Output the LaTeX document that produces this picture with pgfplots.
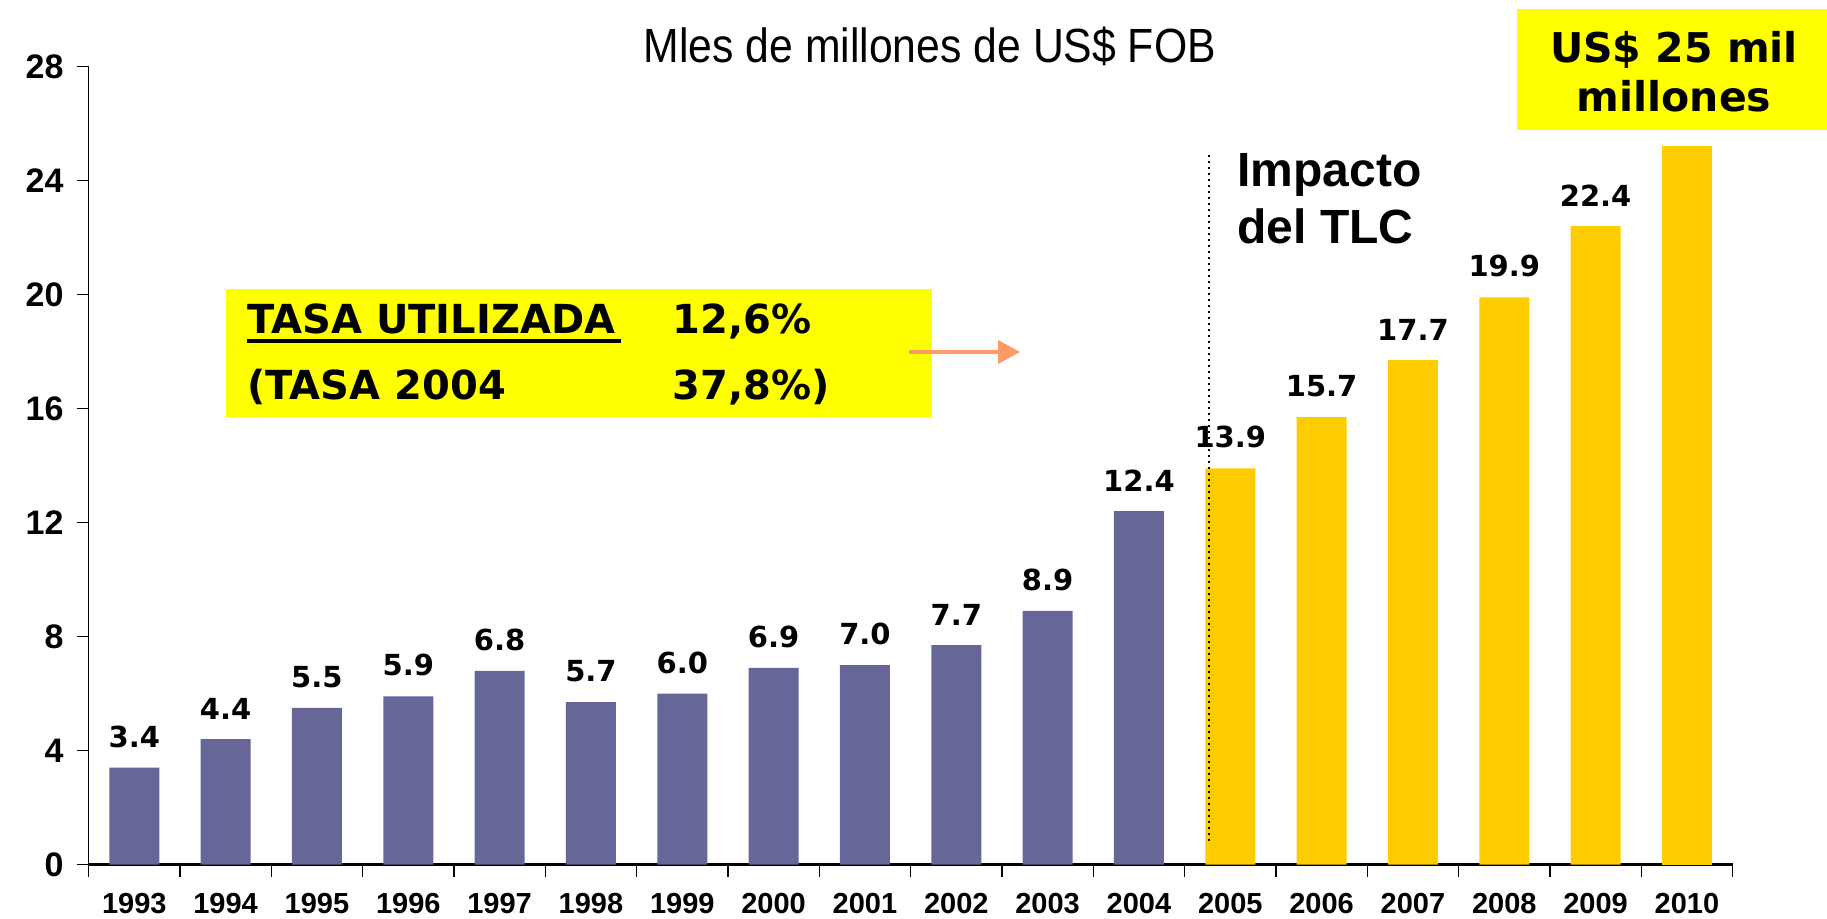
\documentclass[border=0pt]{standalone}
\usepackage{fontspec}
\setmainfont{Liberation Sans}
\newfontfamily\dv{DejaVu Sans}
\usepackage{pgfplots}
\pgfplotsset{compat=1.18}
\definecolor{barblue}{HTML}{666699}
\definecolor{baryel}{HTML}{FFCC00}
\definecolor{boxyel}{HTML}{FFFF00}
\definecolor{arrowc}{HTML}{FF9966}
\begin{document}
\begin{tikzpicture}[x=1pt,y=1pt]
\begin{axis}[
  at={(44.3pt,27.2pt)}, anchor=south west, scale only axis,
  width=822pt, height=399pt,
  xmin=-0.5, xmax=17.5, ymin=0, ymax=28,
  clip=false,
  /pgf/number format/assume math mode=true,
  axis lines=left, axis line style={-},
  x axis line style={line width=1.4pt},
  y axis line style={line width=0.6pt},
  ybar,
  ytick={0,4,...,28},
  tick align=outside, major tick length=6pt,
  tick style={line width=0.6pt, black},
  yticklabel style={font=\bfseries\fontsize{17}{20}\selectfont, xshift=-3pt},
  xtick={-0.5,0.5,...,17.5}, xticklabels={},
  extra x ticks={0,1,...,17},
  extra x tick labels={1993,1994,1995,1996,1997,1998,1999,2000,2001,2002,2003,2004,2005,2006,2007,2008,2009,2010},
  extra x tick style={tick style={draw=none}, tick label style={font=\bfseries\fontsize{14.5}{16}\selectfont, inner sep=0pt, yshift=-8pt}},
  nodes near coords={\pgfmathprintnumber[fixed,fixed zerofill,precision=1,assume math mode=true]{\pgfplotspointmeta}},
  nodes near coords style={font=\dv\bfseries\fontsize{14.5}{16}\selectfont, yshift=6.5pt, black},
]
\addplot[ybar, bar width=25pt, bar shift=0pt, fill=barblue, draw=none] coordinates {
(0,3.4) (1,4.4) (2,5.5) (3,5.9) (4,6.8) (5,5.7) (6,6.0) (7,6.9) (8,7.0) (9,7.7) (10,8.9) (11,12.4)};
\addplot[ybar, bar width=25pt, bar shift=0pt, fill=baryel, draw=none] coordinates {
(12,13.9) (13,15.7) (14,17.7) (15,19.9) (16,22.4)};
\addplot[ybar, bar width=25pt, bar shift=0pt, fill=baryel, draw=none, nodes near coords={}] coordinates {
(17,25.2)};
\draw[dotted, line width=1pt] (axis cs:11.77,0.82) -- (axis cs:11.77,25.0);
\end{axis}
% title
\node at (464.9,436.2) {\scalebox{0.89}[1]{\fontsize{24}{28}\selectfont Mles de millones de US\$ FOB}};
% top-right box
\fill[boxyel] (758.5,394.5) rectangle (913.5,455);
\node[align=center, font=\dv\bfseries\fontsize{20.5}{24.5}\selectfont] at (837,423.5) {US\$ 25 mil\\millones};
% left box
\fill[boxyel] (113,251) rectangle (466,315);
\node[anchor=base west, inner sep=0pt, font=\dv\bfseries\fontsize{20}{24}\selectfont] at (123.5,292.5) {TASA UTILIZADA};
\draw[line width=1.75pt] (123.5,289) -- (310.5,289);
\node[anchor=base west, inner sep=0pt, font=\dv\bfseries\fontsize{20}{24}\selectfont] at (336,292.5) {12,6\%};
\node[anchor=base west, inner sep=0pt, font=\dv\bfseries\fontsize{20}{24}\selectfont] at (123.5,259.7) {(TASA 2004};
\node[anchor=base west, inner sep=0pt, font=\dv\bfseries\fontsize{20}{24}\selectfont] at (336,259.7) {37,8\%)};
% arrow
\draw[arrowc, line width=2.3pt] (454.5,283.5) -- (500,283.5);
\fill[arrowc] (499,289.5) -- (510,283.5) -- (499,277.5) -- cycle;
% Impacto del TLC
\node[anchor=base west, inner sep=0pt, font=\bfseries\fontsize{24}{28}\selectfont] at (618.5,366.3) {Impacto};
\node[anchor=base west, inner sep=0pt, font=\bfseries\fontsize{24}{28}\selectfont] at (618.5,337.7) {del TLC};
\pgfresetboundingbox
\useasboundingbox (0,0) rectangle (913.5,459.5);
\end{tikzpicture}
\end{document}
